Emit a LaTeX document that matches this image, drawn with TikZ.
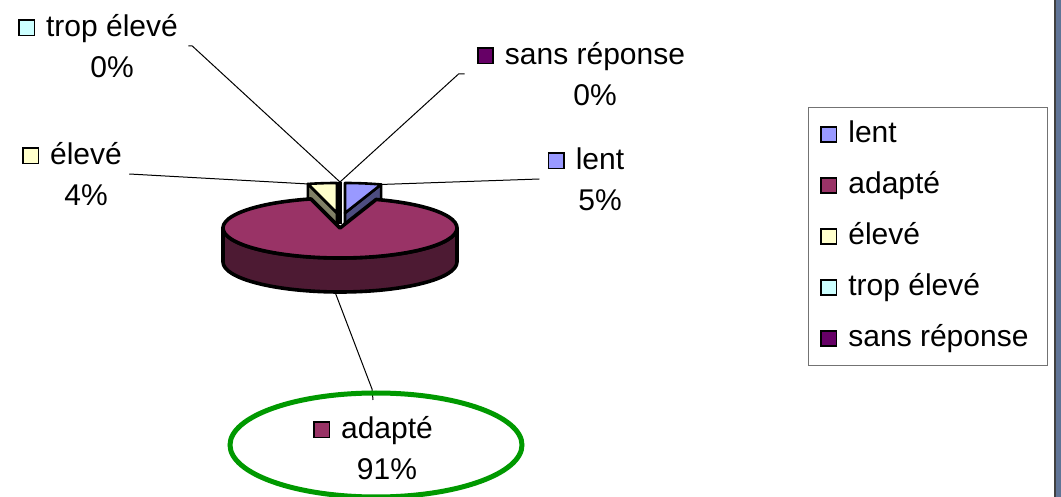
\documentclass[tikz,border=0pt]{standalone}
\usepackage{fontspec}
\setmainfont{Liberation Sans}
\usepackage{tikz}
\usetikzlibrary{positioning}

\definecolor{lentc}{RGB}{153,153,255}
\definecolor{lentd}{RGB}{77,77,128}
\definecolor{adapc}{RGB}{153,51,102}
\definecolor{adapd}{RGB}{77,26,51}
\definecolor{elevc}{RGB}{255,255,204}
\definecolor{elevd}{RGB}{128,128,102}
\definecolor{tropc}{RGB}{204,255,255}
\definecolor{sansc}{RGB}{102,0,102}
\definecolor{ringc}{RGB}{0,153,0}
\definecolor{stripc}{RGB}{96,116,150}

\newcommand{\keysq}[1]{\raisebox{0.8pt}{\setlength{\fboxsep}{0pt}\setlength{\fboxrule}{0.8pt}\fcolorbox{black}{#1}{\rule{6.9pt}{0pt}\rule{0pt}{6.9pt}}}}
\newcommand{\keyed}[2]{\llap{\keysq{#1}\hspace{5.5pt}}#2}

\tikzset{
  lbl/.style={align=center, inner sep=0pt},
  leader/.style={line width=0.5pt},
  rim/.style={draw=black, line width=1.8pt, line join=round},
  wedge/.style={draw=black, line width=1.3pt, line join=round},
  legbox/.style={draw=black!55, line width=0.5pt, inner sep=0pt},
  legentry/.style={anchor=base west, inner sep=0pt},
  hilite/.style={draw=ringc, line width=2.5pt},
}

\begin{document}
\begin{tikzpicture}[x=0.5pt, y=-0.5pt, font=\fontsize{15}{20.5}\selectfont]
    \useasboundingbox (0,0) rectangle (1061,497);

    % exploded slices, behind the big one
    \coordinate (L) at (345,213);
    \coordinate (Lb) at (345,247);
    \coordinate (E) at (337,213);
    \coordinate (Eb) at (337,247);
    \path (L) -- ++(-72:117 and 30) coordinate (lTip);
    \path (E) -- ++(-104.4:117 and 30) coordinate (eTip);
    \filldraw[wedge, fill=lentd] (L) -- (lTip) -- ++(0,34) -- (Lb) -- cycle;
    \filldraw[wedge, fill=elevd] (E) -- (eTip) -- ++(0,34) -- (Eb) -- cycle;
    \filldraw[wedge, fill=lentc] (L) -- ++(-90:117 and 30) arc[start angle=-90, end angle=-72, x radius=117, y radius=30] -- cycle;
    \filldraw[wedge, fill=elevc] (E) -- (eTip) arc[start angle=-104.4, end angle=-90, x radius=117, y radius=30] -- cycle;

    % the two 0% slices
    \coordinate (pTop) at (340,182);
    \draw[line width=1.6pt] (pTop) -- (340,224);

    % big slice
    \coordinate (C) at (340,228);
    \filldraw[rim, fill=adapd] (223,228) -- (223,262) arc[start angle=180, end angle=0, x radius=117, y radius=30] -- (457,228) arc[start angle=0, end angle=180, x radius=117, y radius=30] -- cycle;
    \filldraw[rim, fill=adapc] (C) -- ++(-72:117 and 30) arc[start angle=-72, end angle=255.6, x radius=117, y radius=30] -- cycle;

    % data labels
    \node[lbl] (lblTrop) at (112,46) {\keyed{tropc}{trop élevé}\\0\%};
    \node[lbl] (lblEleve) at (86,174) {\keyed{elevc}{élevé}\\4\%};
    \node[lbl] (lblSans) at (595,74) {\keyed{sansc}{sans réponse}\\0\%};
    \node[lbl] (lblLent) at (600,179) {\keyed{lentc}{lent}\\5\%};
    \node[lbl] (lblAdapte) at (387,448) {\keyed{adapc}{adapté}\\91\%};

    % leader lines
    \draw[leader] ([xshift=5pt]lblTrop.east) -- ++(4,0) -- (pTop);
    \draw[leader] ([xshift=-20pt]lblSans.west) -- ++(-6,0) -- (pTop);
    \draw[leader] ([xshift=3.5pt]lblEleve.east) -- (eTip);
    \draw[leader] ([xshift=-18pt]lblLent.west) -- (lTip);
    \coordinate (aBase) at (335,292);
    \coordinate (aKnee) at (372,389);
    \coordinate (aEnd) at (373,400);
    \draw[leader] (aBase) -- (aKnee) -- (aEnd);

    \draw[hilite] (376,445) ellipse[x radius=146, y radius=52];

    % legend
    \node[legbox, minimum width=119.5pt, minimum height=129pt, anchor=north west] (legend) at (808,107) {};
    \foreach \kc/\kt [count=\i] in {lentc/lent, adapc/adapté, elevc/élevé, tropc/trop élevé, sansc/sans réponse}
        \node[legentry] (leg\i) at (848,92+51*\i) {\keyed{\kc}{\kt}};

    % window edge
    \fill[stripc] (1056,0) rectangle (1061,497);
    \draw[black!75, line width=0.7pt] (1055,0) -- (1055,497);
\end{tikzpicture}
\end{document}
